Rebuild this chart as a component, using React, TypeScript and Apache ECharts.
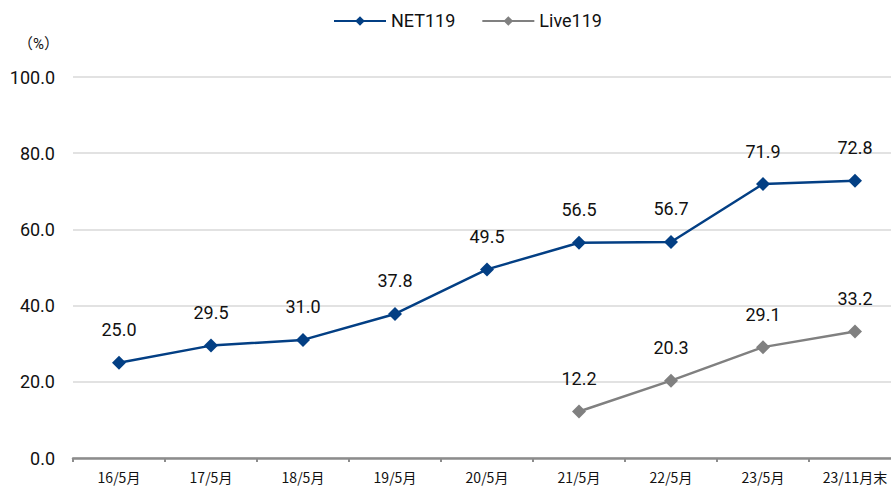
import React, { useEffect, useRef } from "react";
import * as echarts from "echarts";

const categories = ["16/5月", "17/5月", "18/5月", "19/5月", "20/5月", "21/5月", "22/5月", "23/5月", "23/11月末"];
const net119 = [25.0, 29.5, 31.0, 37.8, 49.5, 56.5, 56.7, 71.9, 72.8];
const live119 = [null, null, null, null, null, 12.2, 20.3, 29.1, 33.2];
const yTicks = { min: 0, max: 100, interval: 20 };

const NAVY = "#033f84";
const GREY = "#808080";
const FONT = "Roboto, 'Noto Sans CJK JP', sans-serif";

export default function App() {
  const ref = useRef<HTMLDivElement>(null);
  useEffect(() => {
    if (!ref.current) return;
    const chart = echarts.init(ref.current, null, { renderer: "svg" });
    const labelStyle = {
      show: true,
      position: "top" as const,
      distance: 17,
      fontSize: 18,
      color: "#111",
      fontFamily: FONT,
      formatter: (p: any) => Number(p.value).toFixed(1),
    };
    chart.setOption({
      animation: false,
      backgroundColor: "#fff",
      textStyle: { fontFamily: FONT },
      legend: {
        top: 7,
        left: 328,
        itemWidth: 52,
        itemHeight: 12,
        itemGap: 26,
        textStyle: { fontSize: 18, color: "#111", fontFamily: FONT },
        data: ["NET119", "Live119"],
      },
      grid: {
        left: 73,
        width: 828,
        top: 77,
        bottom: 30,
        containLabel: false,
        outerBoundsMode: "none",
      },
      xAxis: {
        type: "category",
        data: categories,
        boundaryGap: true,
        axisLine: { lineStyle: { color: "#8c8c8c", width: 2.5 } },
        axisTick: { show: true, length: 4, lineStyle: { color: "#8c8c8c", width: 2 } },
        axisLabel: { fontSize: 14, color: "#111", margin: 12, fontFamily: "'Noto Sans CJK JP', sans-serif" },
      },
      yAxis: {
        type: "value",
        min: yTicks.min,
        max: yTicks.max,
        interval: yTicks.interval,
        name: "（%）",
        nameLocation: "end",
        nameGap: 26,
        nameTextStyle: { fontSize: 15, color: "#111", align: "right", padding: [0, 14, 0, 0] },
        axisLine: { show: false },
        axisTick: { show: false },
        splitLine: { lineStyle: { color: "#d9d9d9", width: 1.5 } },
        axisLabel: {
          fontSize: 18,
          color: "#111",
          margin: 18,
          fontFamily: FONT,
          formatter: (v: number) => v.toFixed(1),
        },
      },
      series: [
        {
          name: "NET119",
          type: "line",
          data: net119,
          symbol: "diamond",
          symbolSize: 14,
          itemStyle: { color: NAVY },
          lineStyle: { color: NAVY, width: 2.5 },
          label: labelStyle,
        },
        {
          name: "Live119",
          type: "line",
          data: live119,
          symbol: "diamond",
          symbolSize: 14,
          itemStyle: { color: GREY },
          lineStyle: { color: GREY, width: 2.5 },
          label: labelStyle,
        },
      ],
    });
    return () => chart.dispose();
  }, []);
  return <div ref={ref} style={{ width: 891, height: 488, position: "absolute", left: 0, top: 0 }} />;
}
